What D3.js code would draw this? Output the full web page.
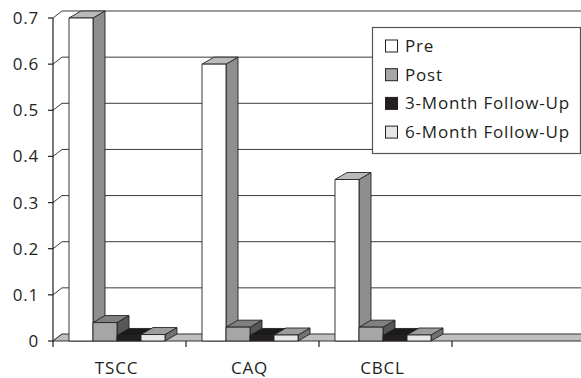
<!DOCTYPE html>
<html>
<head>
<meta charset="utf-8">
<script src="https://cdn.jsdelivr.net/npm/d3@7"></script>
<style>
  html, body { margin: 0; padding: 0; background: #fff; }
  svg { display: block; }
  text { font-family: "Open Sans", "Noto Sans", sans-serif; fill: #231f20; letter-spacing: 0.8px; }
</style>
</head>
<body>
<svg id="chart" width="581" height="378"></svg>
<script>
// ---- data ----
const categories = ["TSCC", "CAQ", "CBCL", ""];
const seriesNames = ["Pre", "Post", "3-Month Follow-Up", "6-Month Follow-Up"];
const preValues = [0.70, 0.60, 0.35];
const postValues = [0.04, 0.03, 0.03];
const followUp3Values = [0.012, 0.012, 0.012];
const followUp6Values = [0.014, 0.013, 0.013];
const yTicks = [0, 0.1, 0.2, 0.3, 0.4, 0.5, 0.6, 0.7];
const yTickLabels = ["0", "0.1", "0.2", "0.3", "0.4", "0.5", "0.6", "0.7"];

const seriesValues = [preValues, postValues, followUp3Values, followUp6Values];
const faceColors = [
  { front: "#ffffff", top: "#bababa", side: "#8e8e8e" },
  { front: "#a6a6a6", top: "#808080", side: "#575757" },
  { front: "#231f20", top: "#1c1a1a", side: "#141212" },
  { front: "#e8e8e8", top: "#9c9c9c", side: "#727272" }
];
const legendColors = ["#ffffff", "#a6a6a6", "#231f20", "#e6e6e6"];

// ---- layout ----
const svg = d3.select("#chart");
const y = d3.scaleLinear().domain([0, 0.7]).range([341, 18]);
const x = d3.scaleBand().domain(categories).range([53, 585]).paddingInner(0).paddingOuter(0);
const barInner = d3.scaleBand().domain(seriesNames).range([16, 112]).padding(0);
const wallDX = 9, wallDY = 7, barDX = 12, barDY = 7;
const axisX = 53, rightEdge = 600;

// back-wall gridlines + left-wall diagonals
const grid = svg.append("g");
yTicks.forEach(v => {
  const yy = y(v);
  if (v > 0) {
    grid.append("line").attr("x1", axisX + wallDX).attr("x2", rightEdge)
      .attr("y1", yy - wallDY).attr("y2", yy - wallDY)
      .attr("stroke", "#3a3a3a").attr("stroke-width", 1);
  }
  grid.append("line").attr("x1", axisX).attr("y1", yy)
    .attr("x2", axisX + wallDX).attr("y2", yy - wallDY)
    .attr("stroke", "#3a3a3a").attr("stroke-width", 1);
});

// floor
const y0 = y(0);
svg.append("polygon")
  .attr("points", [[axisX, y0], [rightEdge, y0], [rightEdge + wallDX, y0 - wallDY], [axisX + wallDX, y0 - wallDY]].map(p => p.join(",")).join(" "))
  .attr("fill", "#bfbfbf").attr("stroke", "#333").attr("stroke-width", 1);

// y axis
svg.append("line").attr("x1", axisX).attr("x2", axisX).attr("y1", y(0.7)).attr("y2", y0 + 6)
  .attr("stroke", "#231f20").attr("stroke-width", 1.2);
const yAxis = svg.append("g");
yTicks.forEach((v, i) => {
  yAxis.append("line").attr("x1", axisX - 5).attr("x2", axisX).attr("y1", y(v)).attr("y2", y(v))
    .attr("stroke", "#231f20").attr("stroke-width", 1.2);
  yAxis.append("text").attr("x", 39).attr("y", y(v)).attr("dy", "0.35em")
    .attr("text-anchor", "end").attr("font-size", 17).text(yTickLabels[i]);
});

// x axis category ticks and labels
const xAxis = svg.append("g");
categories.forEach((c, i) => {
  const bx = x(c) + x.bandwidth();
  xAxis.append("line").attr("x1", bx).attr("x2", bx).attr("y1", y0).attr("y2", y0 + 6)
    .attr("stroke", "#231f20").attr("stroke-width", 1.2);
  if (c) {
    xAxis.append("text").attr("x", x(c) + x.bandwidth() / 2 - 3).attr("y", 374)
      .attr("text-anchor", "middle").attr("font-size", 17).text(c);
  }
});

// bars
const bars = svg.append("g");
categories.forEach((c, ci) => {
  seriesNames.forEach((s, si) => {
    const v = seriesValues[si][ci];
    if (v === undefined || v === null) return;
    const x0 = x(c) + barInner(s), x1 = x0 + barInner.bandwidth();
    const yt = y(v), yb = y(0);
    const col = faceColors[si];
    const g = bars.append("g").attr("stroke", "#222").attr("stroke-width", 0.9).attr("stroke-linejoin", "round");
    g.append("polygon")
      .attr("points", [[x1, yt], [x1 + barDX, yt - barDY], [x1 + barDX, yb - barDY], [x1, yb]].map(p => p.join(",")).join(" "))
      .attr("fill", col.side);
    g.append("polygon")
      .attr("points", [[x0, yt], [x1, yt], [x1 + barDX, yt - barDY], [x0 + barDX, yt - barDY]].map(p => p.join(",")).join(" "))
      .attr("fill", col.top);
    g.append("rect").attr("x", x0).attr("y", yt).attr("width", x1 - x0).attr("height", yb - yt)
      .attr("fill", col.front);
  });
});

// legend
const legend = svg.append("g");
legend.append("rect").attr("x", 372.5).attr("y", 27.5).attr("width", 208).attr("height", 126)
  .attr("fill", "#fff").attr("stroke", "#555").attr("stroke-width", 1.2);
seriesNames.forEach((s, i) => {
  const cy = 46 + i * 28.7;
  legend.append("rect").attr("x", 385.5).attr("y", cy - 6).attr("width", 12).attr("height", 12)
    .attr("fill", legendColors[i]).attr("stroke", "#231f20").attr("stroke-width", 1);
  legend.append("text").attr("x", 405).attr("y", cy).attr("dy", "0.35em")
    .attr("font-size", 17).text(s);
});
</script>
</body>
</html>
